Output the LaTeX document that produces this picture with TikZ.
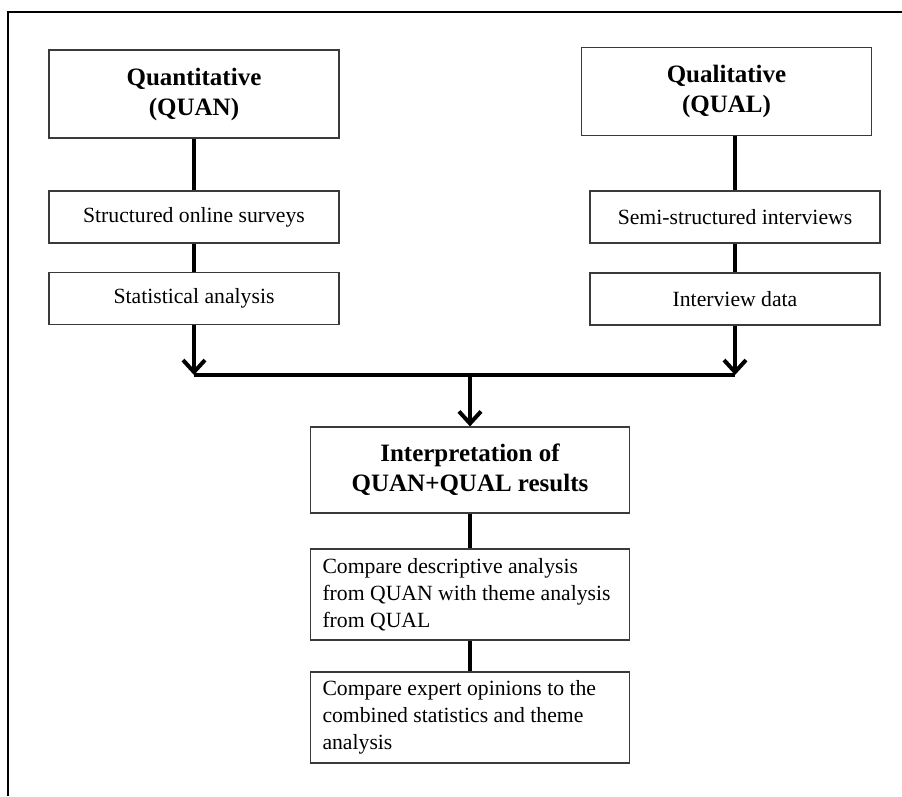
\documentclass[tikz,border=0pt]{standalone}
\usepackage{fontspec}
\setmainfont{Liberation Serif}
\usepackage{tikz}
\usetikzlibrary{arrows.meta,positioning}
\definecolor{boxline}{HTML}{3A3A3A}

\begin{document}
\begin{tikzpicture}[x=1pt, y=-1pt,
    headbox/.style={rectangle, draw=boxline, line width=1.2pt, minimum width=290pt, minimum height=88pt, align=center, font=\fontsize{25}{30}\selectfont\bfseries},
    stepbox/.style={rectangle, draw=boxline, line width=1.2pt, minimum width=290pt, minimum height=52pt, font=\fontsize{21.7}{27}\selectfont},
    notebox/.style={rectangle, draw=boxline, line width=1.2pt, text width=307pt, inner xsep=6pt, minimum height=91pt, align=flush left, font=\fontsize{21.7}{27}\selectfont},
    link/.style={line width=4pt},
    flow/.style={line width=4pt, -{Straight Barb[length=12pt, width=22pt]}}]
    \useasboundingbox (0,0) rectangle (902,796);
    \draw[line width=2pt] (8,796) -- (8,12) -- (902,12);

    \node[headbox] (quan) at (194,94) {Quantitative\\(QUAN)};
    \node[headbox] (qual) at (726.5,91.5) {Qualitative\\(QUAL)};
    \node[stepbox] (surveys) at (194,217) {Structured online surveys};
    \node[stepbox] (stats) at (194,298.5) {Statistical analysis};
    \node[stepbox] (interviews) at (735,217) {Semi-structured interviews};
    \node[stepbox] (intdata) at (735,299) {Interview data};
    \node[headbox, minimum width=319pt, minimum height=86pt] (interp) at (470,470) {Interpretation of\\QUAN+QUAL results};
    \node[notebox] (cmpone) at (470,594.5) {\hspace*{6pt}Compare descriptive analysis\\\hspace*{6pt}from QUAN with theme analysis\\\hspace*{6pt}from QUAL};
    \node[notebox] (cmptwo) at (470,717.5) {\hspace*{6pt}Compare expert opinions to the\\\hspace*{6pt}combined statistics and theme\\\hspace*{6pt}analysis};
    \coordinate (join) at (470,375);

    \draw[link] (quan) -- (surveys);
    \draw[link] (surveys) -- (stats);
    \draw[link] (interviews.north) -- (interviews.north |- qual.south);
    \draw[link] (interviews) -- (intdata);
    \draw[link] (stats.south |- join) -- (intdata.south |- join);
    \draw[flow] (stats) -- (stats.south |- join);
    \draw[flow] (intdata) -- (intdata.south |- join);
    \draw[flow] (join) -- (interp);
    \draw[link] (interp) -- (cmpone);
    \draw[link] (cmpone) -- (cmptwo);
\end{tikzpicture}
\end{document}
